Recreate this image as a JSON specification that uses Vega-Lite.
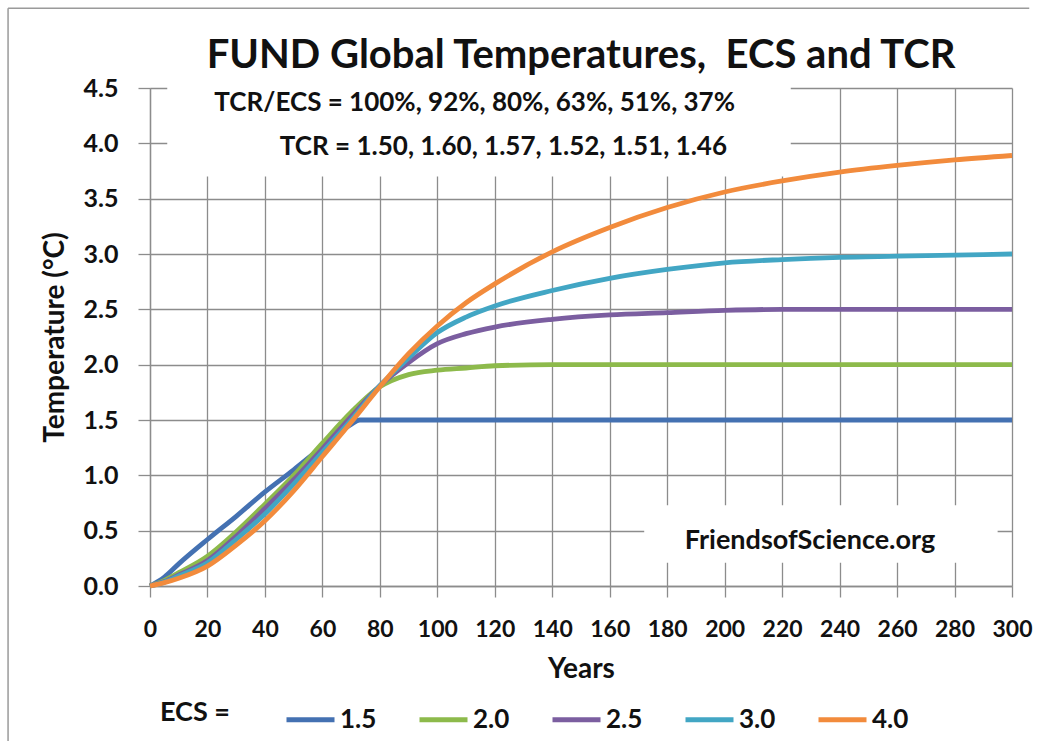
{
  "$schema": "https://vega.github.io/schema/vega-lite/v6.json",
  "autosize": {"type": "none"},
  "width": 862,
  "height": 498,
  "padding": {"left": 150, "top": 88, "right": 31, "bottom": 168},
  "background": "white",
  "title": {
    "text": "FUND Global Temperatures,\u00a0 ECS and TCR",
    "font": "Lato",
    "fontSize": 40,
    "fontWeight": "bold",
    "color": "#111111",
    "anchor": "middle",
    "frame": "group",
    "offset": -68
  },
  "config": {
    "view": {"stroke": null},
    "font": "Lato",
    "axis": {
      "grid": true,
      "gridColor": "#8c8c8c",
      "gridWidth": 1.3,
      "domainColor": "#8c8c8c",
      "domainWidth": 1.3,
      "tickColor": "#8c8c8c",
      "tickWidth": 1.3,
      "labelFont": "Lato",
      "labelFontSize": 23,
      "labelFontWeight": "bold",
      "labelColor": "#111111",
      "titleFont": "Lato",
      "titleFontSize": 28,
      "titleFontWeight": "bold",
      "titleColor": "#111111"
    },
    "legend": {
      "orient": "none",
      "legendX": 10,
      "legendY": 605,
      "direction": "horizontal",
      "titleOrient": "left",
      "titleFont": "Lato",
      "titleFontSize": 27,
      "titleFontWeight": "bold",
      "titleColor": "#111111",
      "titlePadding": 54,
      "labelFont": "Lato",
      "labelFontSize": 26,
      "labelFontWeight": "bold",
      "labelColor": "#111111",
      "labelOffset": 3,
      "symbolType": "stroke",
      "symbolSize": 2304,
      "symbolStrokeWidth": 5,
      "columnPadding": 32
    }
  },
  "layer": [
    {
      "data": {"values": [{}]},
      "mark": {"type": "rule", "stroke": "#9a9a9a", "strokeWidth": 1.5},
      "encoding": {
        "x": {"datum": -49.4, "type": "quantitative"},
        "y": {"datum": -1.4, "type": "quantitative"},
        "y2": {"datum": 5.22}
      }
    },
    {
      "data": {"values": [{}]},
      "mark": {"type": "rule", "stroke": "#9a9a9a", "strokeWidth": 1.5},
      "encoding": {
        "y": {"datum": 5.22, "type": "quantitative"},
        "x": {"datum": -49.4, "type": "quantitative"},
        "x2": {"datum": 306}
      }
    },
    {
      "data": {"values": [{}]},
      "mark": {"type": "rect", "fill": "white", "stroke": null},
      "encoding": {
        "x": {"datum": 6, "type": "quantitative"},
        "x2": {"datum": 223},
        "y": {"datum": 3.7, "type": "quantitative"},
        "y2": {"datum": 4.56}
      }
    },
    {
      "data": {"values": [{}]},
      "mark": {"type": "rect", "fill": "white", "stroke": null},
      "encoding": {
        "x": {"datum": 172, "type": "quantitative"},
        "x2": {"datum": 295},
        "y": {"datum": 0.21, "type": "quantitative"},
        "y2": {"datum": 0.73}
      }
    },
    {
      "data": {
        "values": [
          {"year": 0, "ECS": "1.5", "temp": 0},
          {"year": 5, "ECS": "1.5", "temp": 0.08},
          {"year": 10, "ECS": "1.5", "temp": 0.2},
          {"year": 20, "ECS": "1.5", "temp": 0.42},
          {"year": 30, "ECS": "1.5", "temp": 0.63},
          {"year": 40, "ECS": "1.5", "temp": 0.85},
          {"year": 50, "ECS": "1.5", "temp": 1.05},
          {"year": 60, "ECS": "1.5", "temp": 1.26},
          {"year": 70, "ECS": "1.5", "temp": 1.46},
          {"year": 73, "ECS": "1.5", "temp": 1.5},
          {"year": 100, "ECS": "1.5", "temp": 1.5},
          {"year": 150, "ECS": "1.5", "temp": 1.5},
          {"year": 200, "ECS": "1.5", "temp": 1.5},
          {"year": 250, "ECS": "1.5", "temp": 1.5},
          {"year": 300, "ECS": "1.5", "temp": 1.5},

          {"year": 0, "ECS": "2.0", "temp": 0},
          {"year": 5, "ECS": "2.0", "temp": 0.05},
          {"year": 10, "ECS": "2.0", "temp": 0.12},
          {"year": 20, "ECS": "2.0", "temp": 0.27},
          {"year": 30, "ECS": "2.0", "temp": 0.49},
          {"year": 40, "ECS": "2.0", "temp": 0.74},
          {"year": 50, "ECS": "2.0", "temp": 1.0},
          {"year": 60, "ECS": "2.0", "temp": 1.29},
          {"year": 70, "ECS": "2.0", "temp": 1.57},
          {"year": 80, "ECS": "2.0", "temp": 1.8},
          {"year": 90, "ECS": "2.0", "temp": 1.91},
          {"year": 100, "ECS": "2.0", "temp": 1.95},
          {"year": 110, "ECS": "2.0", "temp": 1.97},
          {"year": 120, "ECS": "2.0", "temp": 1.99},
          {"year": 140, "ECS": "2.0", "temp": 2.0},
          {"year": 200, "ECS": "2.0", "temp": 2.0},
          {"year": 250, "ECS": "2.0", "temp": 2.0},
          {"year": 300, "ECS": "2.0", "temp": 2.0},

          {"year": 0, "ECS": "2.5", "temp": 0},
          {"year": 5, "ECS": "2.5", "temp": 0.04},
          {"year": 10, "ECS": "2.5", "temp": 0.1},
          {"year": 20, "ECS": "2.5", "temp": 0.23},
          {"year": 30, "ECS": "2.5", "temp": 0.45},
          {"year": 40, "ECS": "2.5", "temp": 0.7},
          {"year": 50, "ECS": "2.5", "temp": 0.96},
          {"year": 60, "ECS": "2.5", "temp": 1.24},
          {"year": 70, "ECS": "2.5", "temp": 1.53},
          {"year": 80, "ECS": "2.5", "temp": 1.81},
          {"year": 90, "ECS": "2.5", "temp": 2.02},
          {"year": 100, "ECS": "2.5", "temp": 2.19},
          {"year": 110, "ECS": "2.5", "temp": 2.28},
          {"year": 120, "ECS": "2.5", "temp": 2.34},
          {"year": 140, "ECS": "2.5", "temp": 2.41},
          {"year": 160, "ECS": "2.5", "temp": 2.45},
          {"year": 180, "ECS": "2.5", "temp": 2.47},
          {"year": 200, "ECS": "2.5", "temp": 2.49},
          {"year": 220, "ECS": "2.5", "temp": 2.5},
          {"year": 260, "ECS": "2.5", "temp": 2.5},
          {"year": 300, "ECS": "2.5", "temp": 2.5},

          {"year": 0, "ECS": "3.0", "temp": 0},
          {"year": 5, "ECS": "3.0", "temp": 0.035},
          {"year": 10, "ECS": "3.0", "temp": 0.09},
          {"year": 20, "ECS": "3.0", "temp": 0.21},
          {"year": 30, "ECS": "3.0", "temp": 0.42},
          {"year": 40, "ECS": "3.0", "temp": 0.65},
          {"year": 50, "ECS": "3.0", "temp": 0.92},
          {"year": 60, "ECS": "3.0", "temp": 1.21},
          {"year": 70, "ECS": "3.0", "temp": 1.5},
          {"year": 80, "ECS": "3.0", "temp": 1.81},
          {"year": 90, "ECS": "3.0", "temp": 2.06},
          {"year": 100, "ECS": "3.0", "temp": 2.29},
          {"year": 110, "ECS": "3.0", "temp": 2.43},
          {"year": 120, "ECS": "3.0", "temp": 2.53},
          {"year": 140, "ECS": "3.0", "temp": 2.67},
          {"year": 160, "ECS": "3.0", "temp": 2.78},
          {"year": 180, "ECS": "3.0", "temp": 2.86},
          {"year": 200, "ECS": "3.0", "temp": 2.92},
          {"year": 220, "ECS": "3.0", "temp": 2.95},
          {"year": 240, "ECS": "3.0", "temp": 2.97},
          {"year": 260, "ECS": "3.0", "temp": 2.98},
          {"year": 280, "ECS": "3.0", "temp": 2.99},
          {"year": 300, "ECS": "3.0", "temp": 3.0},

          {"year": 0, "ECS": "4.0", "temp": 0},
          {"year": 5, "ECS": "4.0", "temp": 0.03},
          {"year": 10, "ECS": "4.0", "temp": 0.07},
          {"year": 20, "ECS": "4.0", "temp": 0.18},
          {"year": 30, "ECS": "4.0", "temp": 0.37},
          {"year": 40, "ECS": "4.0", "temp": 0.59},
          {"year": 50, "ECS": "4.0", "temp": 0.86},
          {"year": 60, "ECS": "4.0", "temp": 1.17},
          {"year": 70, "ECS": "4.0", "temp": 1.48},
          {"year": 80, "ECS": "4.0", "temp": 1.8},
          {"year": 90, "ECS": "4.0", "temp": 2.1},
          {"year": 100, "ECS": "4.0", "temp": 2.35},
          {"year": 110, "ECS": "4.0", "temp": 2.56},
          {"year": 120, "ECS": "4.0", "temp": 2.73},
          {"year": 140, "ECS": "4.0", "temp": 3.02},
          {"year": 160, "ECS": "4.0", "temp": 3.24},
          {"year": 180, "ECS": "4.0", "temp": 3.42},
          {"year": 200, "ECS": "4.0", "temp": 3.56},
          {"year": 220, "ECS": "4.0", "temp": 3.66},
          {"year": 240, "ECS": "4.0", "temp": 3.74},
          {"year": 260, "ECS": "4.0", "temp": 3.8},
          {"year": 280, "ECS": "4.0", "temp": 3.85},
          {"year": 300, "ECS": "4.0", "temp": 3.89}
        ]
      },
      "mark": {"type": "line", "strokeWidth": 4.8, "interpolate": "monotone", "clip": false},
      "encoding": {
        "x": {
          "field": "year",
          "type": "quantitative",
          "scale": {"domain": [0, 300], "nice": false, "zero": false},
          "axis": {
            "title": "Years",
            "values": [0, 20, 40, 60, 80, 100, 120, 140, 160, 180, 200, 220, 240, 260, 280, 300],
            "tickSize": 11,
            "labelPadding": 21,
            "titlePadding": 14,
            "labelFlush": false,
            "labelOverlap": false
          }
        },
        "y": {
          "field": "temp",
          "type": "quantitative",
          "scale": {"domain": [0, 4.5], "nice": false},
          "axis": {
            "title": "Temperature (°C)",
            "values": [0, 0.5, 1, 1.5, 2, 2.5, 3, 3.5, 4, 4.5],
            "format": ".1f",
            "tickSize": 12,
            "labelPadding": 20,
            "labelFontSize": 25,
            "titlePadding": 14,
            "labelFlush": false,
            "labelOverlap": false
          }
        },
        "color": {
          "field": "ECS",
          "type": "nominal",
          "scale": {
            "domain": ["1.5", "2.0", "2.5", "3.0", "4.0"],
            "range": ["#4471b2", "#8dba4b", "#7b5ea0", "#42a6c4", "#f28b3c"]
          },
          "legend": {"title": "ECS ="}
        }
      }
    },
    {
      "data": {"values": [{}]},
      "mark": {"type": "text", "font": "Lato", "fontSize": 26, "fontWeight": "bold", "color": "#111111", "align": "center", "baseline": "middle"},
      "encoding": {
        "x": {"datum": 113, "type": "quantitative"},
        "y": {"datum": 4.36, "type": "quantitative"},
        "text": {"value": "TCR/ECS = 100%, 92%, 80%, 63%, 51%, 37%"}
      }
    },
    {
      "data": {"values": [{}]},
      "mark": {"type": "text", "font": "Lato", "fontSize": 26, "fontWeight": "bold", "color": "#111111", "align": "center", "baseline": "middle"},
      "encoding": {
        "x": {"datum": 123, "type": "quantitative"},
        "y": {"datum": 3.97, "type": "quantitative"},
        "text": {"value": "TCR = 1.50, 1.60, 1.57, 1.52, 1.51, 1.46"}
      }
    },
    {
      "data": {"values": [{}]},
      "mark": {"type": "text", "font": "Lato", "fontSize": 27, "fontWeight": "bold", "color": "#111111", "align": "center", "baseline": "middle"},
      "encoding": {
        "x": {"datum": 229.7, "type": "quantitative"},
        "y": {"datum": 0.41, "type": "quantitative"},
        "text": {"value": "FriendsofScience.org"}
      }
    }
  ]
}
